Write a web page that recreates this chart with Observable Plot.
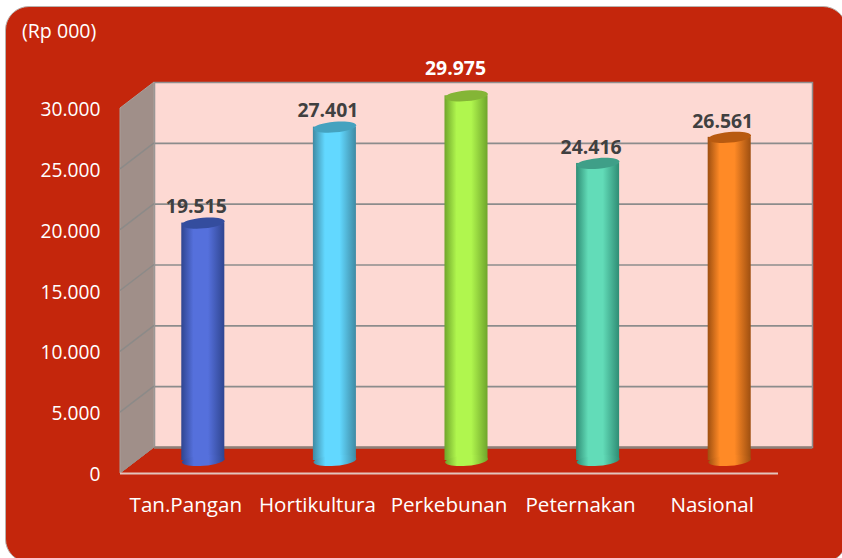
<!DOCTYPE html>
<html><head><meta charset="utf-8">
<script src="https://cdn.jsdelivr.net/npm/d3@7"></script>
<script src="https://cdn.jsdelivr.net/npm/@observablehq/plot@0.6"></script>
<style>
html,body{margin:0;padding:0;background:#fff;overflow:hidden}
#card{position:absolute;left:5px;top:6px;width:842px;height:557px;background:#c4260c;border:1px solid #b9b2ae;border-radius:24px;box-sizing:border-box}
#chart{position:absolute;left:0;top:0}
#unit{position:absolute;left:22px;top:17px;color:#fff;font:19.6px "Open Sans",sans-serif}
</style></head><body>
<div id="card"></div>
<div id="chart"></div>
<div id="unit">(Rp 000)</div>
<script>
const categories = ["Tan.Pangan","Hortikultura","Perkebunan","Peternakan","Nasional"];
const values = [19515,27401,29975,24416,26561];
const yTicks = [0,5000,10000,15000,20000,25000,30000];
const topColors = ["#344d9e","#45a2bf","#84b536","#3f9f88","#b85a10"];
const sideColors = ["#2f4590","#3f8aa3","#6fa52b","#2f8d75","#9e4f10"];
const midColors = ["#5570dc","#62d8ff","#b0f64e","#62dcb8","#ff8a26"];
const depthX = 34, depthY = 26;
const fmt = d => d3.format(",")(d).replace(/,/g,".");
const rows = categories.map((c,i)=>({c,v:values[i],i}));

const ellipse = {draw(ctx,size){
  const a=Math.sqrt(size/Math.PI), b=a*0.245, t=-5*Math.PI/180, k=0.5523;
  const P=(x,y)=>[x*Math.cos(t)-y*Math.sin(t), x*Math.sin(t)+y*Math.cos(t)];
  ctx.moveTo(...P(a,0));
  ctx.bezierCurveTo(...P(a,k*b),...P(k*a,b),...P(0,b));
  ctx.bezierCurveTo(...P(-k*a,b),...P(-a,k*b),...P(-a,0));
  ctx.bezierCurveTo(...P(-a,-k*b),...P(-k*a,-b),...P(0,-b));
  ctx.bezierCurveTo(...P(k*a,-b),...P(a,-k*b),...P(a,0));
  ctx.closePath();
}};

const ns="http://www.w3.org/2000/svg";
function el(tag,attrs,parent){const n=document.createElementNS(ns,tag);for(const k in attrs)n.setAttribute(k,attrs[k]);if(parent)parent.appendChild(n);return n;}

function sideWall(index,{y},values,dim){
  const g=el("g",{});
  const x0=dim.marginLeft,y0=y(0),y1=y(30000);
  el("polygon",{points:`${x0},${y1} ${x0+depthX},${y1-depthY} ${x0+depthX},${y0-depthY} ${x0},${y0}`,fill:"#a08f89",stroke:"#a8a09c"},g);
  for(const t of yTicks.slice(1,-1)){
    el("line",{x1:x0,y1:y(t),x2:x0+depthX,y2:y(t)-depthY,stroke:"#8c8a88","stroke-width":1.5},g);
  }
  el("line",{x1:x0,y1:y0,x2:x0+depthX,y2:y0-depthY,stroke:"#9a8f8a","stroke-width":1},g);
  return g;
}
function gradients(){
  const d=el("defs",{});
  categories.forEach((c,i)=>{
    const g=el("linearGradient",{id:"cyl"+i,x1:0,x2:1,y1:0,y2:0},d);
    [[0,sideColors[i]],[.28,midColors[i]],[.62,midColors[i]],[1,sideColors[i]]].forEach(([o,col])=>el("stop",{offset:o,"stop-color":col},g));
  });
  return d;
}

const chart = Plot.plot({
  width:842,height:558,
  marginLeft:120,marginRight:64,marginTop:108,marginBottom:85,
  style:{background:"transparent",fontFamily:"'Open Sans',sans-serif",overflow:"visible"},
  x:{type:"band",domain:categories,paddingInner:0.673,paddingOuter:0.3365,align:0.5,round:false,label:null},
  y:{domain:[0,30000],label:null},
  marks:[
    gradients,
    Plot.frame({fill:"#fdd9d3",stroke:"#8f8f8f",strokeWidth:1.5,dx:depthX,dy:-depthY}),
    Plot.ruleY(yTicks.slice(1,-1),{stroke:"#8c8c8c",strokeWidth:1.7,dx:depthX,dy:-depthY}),
    Plot.ruleY([0],{stroke:"#8f8078",strokeWidth:2.5,dx:depthX,dy:-depthY}),
    sideWall,
    Plot.ruleY([0],{stroke:"#e3c4bc",strokeWidth:2}),
    Plot.barY(rows,{x:"c",y:"v",fill:d=>`url(#cyl${d.i})`,dx:depthX/2,dy:-depthY/2}),
    Plot.dot(rows,{x:"c",y:()=>0,r:21.5,symbol:ellipse,fill:d=>`url(#cyl${d.i})`,stroke:"none",dx:depthX/2,dy:-depthY/2}),
    Plot.dot(rows,{x:"c",y:"v",r:21.5,symbol:ellipse,fill:d=>topColors[d.i],stroke:"none",dx:depthX/2,dy:-depthY/2}),
    Plot.text(rows.filter(d=>d.i!==2),{x:"c",y:"v",text:d=>fmt(d.v),dx:10,dy:-29,fill:"#404040",fontSize:19.4,fontWeight:700}),
    Plot.text(rows.filter(d=>d.i===2),{x:"c",y:"v",text:d=>fmt(d.v),dx:6,dy:-40,fill:"#ffffff",fontSize:19.4,fontWeight:700}),
    Plot.axisY({ticks:yTicks,tickFormat:fmt,tickSize:0,tickPadding:0,dx:-20,dy:1.5,fontSize:19.2,color:"#fff",label:null}),
    Plot.axisX({tickSize:0,tickPadding:0,dy:24,dx:-0.5,fontSize:20.6,color:"#fff",label:null})
  ]
});
document.getElementById("chart").appendChild(chart);
</script>
</body></html>
